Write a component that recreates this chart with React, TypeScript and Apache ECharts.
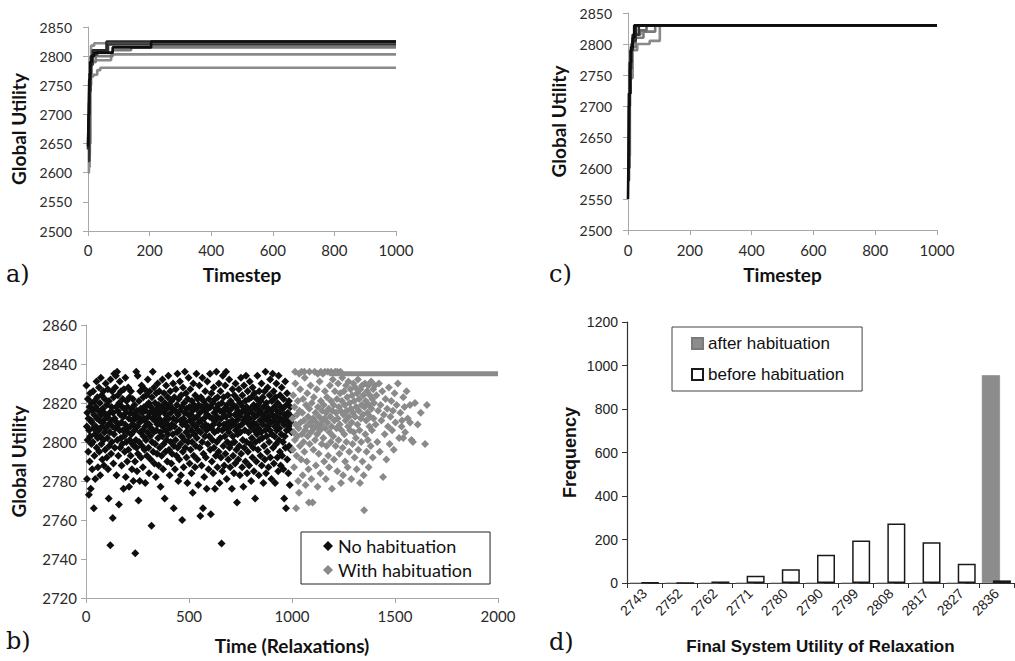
import React, { useEffect, useRef } from "react";
import * as echarts from "echarts";

// ---------- Panel a: runs without habituation (timestep, global utility) ----------
const runA1 = [[0, 2645], [2, 2700], [4, 2760], [7, 2790], [12, 2800], [20, 2806], [80, 2815], [205, 2825], [1000, 2825]];
const runA2 = [[0, 2600], [3, 2720], [6, 2790], [10, 2818], [20, 2822], [1000, 2822]];
const runA3 = [[0, 2620], [4, 2740], [8, 2785], [15, 2803], [30, 2808], [65, 2820], [1000, 2820]];
const runA4 = [[0, 2610], [5, 2750], [10, 2790], [25, 2800], [80, 2810], [140, 2815], [1000, 2815]];
const runA5 = [[0, 2630], [6, 2765], [12, 2790], [25, 2793], [75, 2803], [1000, 2803]];
const runA6 = [[0, 2650], [8, 2765], [18, 2768], [30, 2776], [40, 2780], [1000, 2780]];
const runA7 = [[0, 2640], [2, 2700], [5, 2770], [9, 2800], [15, 2810], [60, 2825], [1000, 2825]];

// ---------- Panel c: runs with habituation ----------
const runC1 = [[0, 2550], [2, 2640], [4, 2720], [7, 2770], [10, 2795], [15, 2810], [20, 2830], [1000, 2830]];
const runC2 = [[0, 2580], [3, 2700], [6, 2760], [10, 2790], [14, 2805], [25, 2815], [35, 2830], [1000, 2830]];
const runC3 = [[0, 2600], [5, 2745], [15, 2790], [30, 2800], [70, 2805], [103, 2830], [1000, 2830]];
const runC4 = [[0, 2620], [6, 2760], [12, 2795], [25, 2810], [50, 2820], [88, 2830], [1000, 2830]];
const runC5 = [[0, 2640], [4, 2770], [10, 2800], [18, 2815], [40, 2822], [60, 2830], [1000, 2830]];
const runC6 = [[0, 2600], [3, 2720], [8, 2790], [15, 2815], [25, 2830], [1000, 2830]];

// ---------- Panel b: scatter of relaxations ----------
const noHabituation = [
  [2,2829],[4,2808],[5,2781],[6,2815],[8,2801],[9,2822],[11,2795],[12,2812],[14,2773],[15,2806],[17,2818],[18,2790],[20,2825],[21,2803],[23,2776],[24,2811],[26,2799],[27,2820],[29,2810],[30,2786],[32,2816],[33,2800],[35,2826],[36,2807],[38,2766],[39,2814],[41,2793],[42,2821],[44,2804],[45,2781],[47,2818],[48,2808],
  [51,2831],[52,2797],[54,2812],[55,2823],[57,2802],[58,2787],[60,2816],[61,2806],[63,2828],[64,2795],[66,2811],[67,2820],[69,2783],[70,2803],[72,2833],[73,2814],[75,2799],[76,2824],[78,2808],[79,2791],[81,2817],[82,2810],[84,2826],[85,2801],[87,2788],[88,2815],[90,2805],[91,2822],[93,2796],[94,2812],[96,2830],[97,2807],
  [100,2819],[101,2792],[103,2813],[104,2802],[106,2827],[107,2786],[109,2809],[110,2771],[112,2821],[113,2798],[115,2815],[116,2805],[118,2747],[119,2832],[121,2811],[122,2794],[124,2818],[125,2800],[127,2826],[128,2808],[130,2761],[131,2815],[133,2789],[134,2823],[136,2804],[137,2835],[139,2812],[140,2797],[142,2828],[143,2807],[145,2834],[146,2818],[148,2783],[149,2810],
  [151,2836],[152,2801],[154,2816],[155,2824],[157,2793],[158,2809],[160,2768],[161,2820],[163,2806],[164,2831],[166,2797],[167,2814],[169,2802],[170,2826],[172,2810],[173,2788],[175,2818],[176,2799],[178,2822],[179,2806],[181,2813],[182,2776],[184,2827],[185,2803],[187,2817],[188,2795],[190,2809],[191,2833],[193,2782],[194,2815],[196,2800],[197,2821],[199,2807],
  [200,2790],[202,2818],[203,2805],[205,2828],[206,2796],[208,2812],[209,2777],[211,2823],[212,2801],[214,2815],[215,2808],[217,2793],[218,2826],[220,2804],[221,2817],[223,2786],[224,2811],[226,2799],[227,2822],[229,2809],[230,2780],[232,2814],[233,2798],[235,2819],[236,2806],[238,2790],[239,2743],[241,2812],[242,2801],[244,2836],[245,2797],[247,2816],[248,2785],[250,2808],
  [251,2834],[252,2794],[254,2813],[255,2770],[257,2821],[258,2800],[260,2810],[261,2780],[263,2826],[264,2805],[266,2817],[267,2792],[269,2811],[270,2829],[272,2798],[273,2815],[275,2806],[276,2787],[278,2823],[279,2803],[281,2812],[282,2818],[284,2796],[285,2827],[287,2808],[288,2779],[290,2816],[291,2801],[293,2824],[294,2810],[296,2793],[297,2819],[299,2805],
  [300,2832],[302,2813],[303,2797],[305,2820],[306,2784],[308,2809],[309,2826],[311,2803],[312,2815],[314,2791],[315,2818],[317,2807],[318,2757],[320,2823],[321,2800],[323,2812],[324,2836],[326,2795],[327,2816],[329,2805],[330,2828],[332,2789],[333,2811],[335,2820],[336,2799],[338,2814],[339,2782],[341,2825],[342,2806],[344,2817],[345,2794],[347,2809],[348,2830],
  [350,2802],[352,2819],[353,2788],[355,2812],[356,2826],[358,2797],[359,2815],[361,2805],[362,2777],[364,2822],[365,2810],[367,2793],[368,2818],[370,2803],[371,2832],[373,2808],[374,2786],[376,2816],[377,2799],[379,2825],[380,2811],[382,2771],[383,2820],[385,2806],[386,2795],[388,2814],[389,2829],[391,2801],[392,2817],[394,2790],[395,2809],[397,2823],[398,2804],
  [400,2834],[402,2812],[403,2796],[405,2819],[406,2783],[408,2807],[409,2826],[411,2800],[412,2815],[414,2789],[415,2821],[417,2809],[418,2794],[420,2817],[421,2804],[423,2830],[424,2812],[426,2766],[427,2798],[429,2823],[430,2808],[432,2786],[433,2816],[435,2801],[436,2827],[438,2811],[439,2793],[441,2819],[442,2805],[444,2835],[445,2797],[447,2814],[448,2780],
  [450,2822],[452,2806],[453,2791],[455,2816],[456,2831],[458,2799],[459,2811],[461,2783],[462,2824],[464,2803],[465,2818],[467,2760],[468,2809],[470,2795],[471,2828],[473,2812],[474,2787],[476,2820],[477,2801],[479,2815],[480,2836],[482,2797],[483,2810],[485,2825],[486,2805],[488,2792],[489,2817],[491,2808],[492,2779],[494,2822],[495,2800],[497,2814],[498,2833],
  [500,2803],[502,2818],[503,2789],[505,2811],[506,2827],[508,2796],[509,2814],[511,2806],[512,2784],[514,2821],[515,2800],[517,2816],[518,2774],[520,2809],[521,2830],[523,2793],[524,2819],[526,2804],[527,2812],[529,2787],[530,2824],[532,2808],[533,2798],[535,2817],[536,2835],[538,2802],[539,2813],[541,2791],[542,2822],[544,2806],[545,2778],[547,2819],[548,2810],
  [550,2829],[552,2797],[553,2815],[555,2762],[556,2805],[558,2823],[559,2811],[561,2788],[562,2818],[564,2800],[565,2833],[567,2808],[568,2766],[570,2794],[571,2821],[573,2812],[574,2782],[576,2816],[577,2803],[579,2826],[580,2809],[582,2792],[583,2819],[585,2806],[586,2776],[588,2814],[589,2831],[591,2799],[592,2817],[594,2808],[595,2786],[597,2822],[598,2803],
  [600,2813],[602,2835],[603,2796],[605,2818],[606,2763],[608,2807],[609,2825],[611,2790],[612,2812],[614,2801],[615,2820],[617,2784],[618,2809],[620,2828],[621,2797],[623,2815],[624,2805],[626,2776],[627,2822],[629,2811],[630,2793],[632,2817],[633,2836],[635,2800],[636,2813],[638,2787],[639,2823],[641,2806],[642,2819],[644,2795],[645,2830],[647,2809],[648,2779],
  [650,2816],[652,2802],[653,2826],[655,2792],[656,2812],[658,2748],[659,2820],[661,2806],[662,2785],[664,2834],[665,2815],[667,2798],[668,2823],[670,2809],[671,2788],[673,2817],[674,2803],[676,2829],[677,2794],[679,2813],[680,2836],[682,2807],[683,2781],[685,2819],[686,2800],[688,2824],[689,2810],[691,2791],[692,2816],[694,2805],[695,2832],[697,2797],[698,2814],
  [700,2787],[702,2821],[703,2808],[705,2799],[706,2817],[708,2776],[709,2811],[711,2827],[712,2803],[714,2793],[715,2819],[717,2809],[718,2784],[720,2824],[721,2800],[723,2814],[724,2789],[726,2830],[727,2806],[729,2818],[730,2796],[732,2811],[733,2769],[735,2822],[736,2804],[738,2816],[739,2791],[741,2808],[742,2827],[744,2798],[745,2813],[747,2783],[748,2820],
  [750,2805],[752,2833],[753,2794],[755,2815],[756,2809],[758,2787],[759,2824],[761,2801],[762,2818],[764,2777],[765,2811],[767,2829],[768,2797],[770,2816],[771,2806],[773,2821],[774,2790],[776,2813],[777,2834],[779,2800],[780,2818],[782,2784],[783,2810],[785,2826],[786,2795],[788,2815],[789,2805],[791,2822],[792,2788],[794,2812],[795,2831],[797,2799],[798,2817],
  [800,2808],[802,2780],[803,2823],[805,2802],[806,2815],[808,2792],[809,2828],[811,2810],[812,2797],[814,2819],[815,2785],[817,2806],[818,2825],[820,2813],[821,2771],[823,2800],[824,2817],[826,2809],[827,2790],[829,2822],[830,2804],[832,2834],[833,2814],[835,2796],[836,2819],[838,2807],[839,2783],[841,2826],[842,2801],[844,2816],[845,2811],[847,2793],[848,2821],
  [850,2805],[852,2830],[853,2788],[855,2814],[856,2802],[858,2823],[859,2809],[861,2779],[862,2818],[864,2798],[865,2812],[867,2826],[868,2791],[870,2806],[871,2836],[873,2815],[874,2784],[876,2820],[877,2803],[879,2811],[880,2795],[882,2828],[883,2808],[885,2817],[886,2787],[888,2813],[889,2800],[891,2824],[892,2806],[894,2832],[895,2792],[897,2816],[898,2810],
  [900,2781],[902,2821],[903,2804],[905,2814],[906,2835],[908,2797],[909,2811],[911,2826],[912,2789],[914,2818],[915,2803],[917,2808],[918,2779],[920,2823],[921,2813],[923,2799],[924,2830],[926,2806],[927,2816],[929,2792],[930,2820],[932,2810],[933,2785],[935,2834],[936,2801],[938,2815],[939,2807],[941,2795],[942,2824],[944,2812],[945,2788],[947,2818],[948,2804],
  [950,2828],[952,2793],[953,2811],[955,2817],[956,2800],[958,2786],[959,2822],[961,2809],[962,2771],[964,2814],[965,2803],[967,2831],[968,2797],[970,2812],[971,2766],[973,2819],[974,2806],[976,2825],[977,2791],[979,2810],[980,2815],[982,2784],[983,2808],[985,2821],[986,2798],[988,2812],[989,2778],[991,2806],[992,2818],[994,2796],[995,2810],[997,2813],[998,2805]
];

const withHabituation = [
  [1002,2812],[1004,2796],[1006,2824],[1008,2805],[1010,2787],[1012,2818],[1014,2801],[1016,2830],[1018,2809],[1020,2766],[1022,2793],[1024,2814],[1026,2803],[1028,2821],[1030,2780],[1032,2807],[1034,2774],[1036,2816],[1038,2798],[1040,2827],[1042,2810],[1044,2791],[1046,2836],[1048,2804],
  [1050,2815],[1052,2783],[1054,2822],[1056,2800],[1058,2811],[1060,2795],[1062,2833],[1064,2806],[1066,2778],[1068,2819],[1070,2808],[1072,2790],[1074,2825],[1076,2803],[1078,2813],[1080,2786],[1082,2769],[1084,2817],[1086,2799],[1088,2810],[1090,2829],[1092,2805],[1094,2781],[1096,2820],[1098,2808],
  [1100,2769],[1102,2812],[1104,2796],[1106,2823],[1108,2807],[1110,2836],[1112,2801],[1114,2815],[1116,2788],[1118,2810],[1120,2827],[1122,2804],[1124,2777],[1126,2818],[1128,2808],[1130,2794],[1132,2813],[1134,2831],[1136,2806],[1138,2784],[1140,2821],[1142,2809],[1144,2799],[1146,2816],[1148,2811],
  [1150,2835],[1152,2802],[1154,2819],[1156,2790],[1158,2812],[1160,2826],[1162,2807],[1164,2781],[1166,2815],[1168,2798],[1170,2823],[1172,2810],[1174,2836],[1176,2793],[1178,2817],[1180,2787],[1182,2805],[1184,2829],[1186,2813],[1188,2800],[1190,2821],[1192,2808],[1194,2776],[1196,2816],[1198,2832],
  [1200,2803],[1202,2819],[1204,2791],[1206,2811],[1208,2826],[1210,2836],[1212,2798],[1214,2815],[1216,2807],[1218,2822],[1220,2785],[1222,2812],[1224,2830],[1226,2801],[1228,2818],[1230,2794],[1232,2809],[1234,2825],[1236,2816],[1238,2779],[1240,2806],[1242,2821],[1244,2833],[1246,2797],[1248,2783],
  [1250,2814],[1252,2826],[1254,2804],[1256,2819],[1258,2790],[1260,2811],[1262,2829],[1264,2800],[1266,2816],[1268,2823],[1270,2787],[1272,2808],[1274,2831],[1276,2813],[1278,2795],[1280,2820],[1282,2806],[1284,2827],[1286,2817],[1288,2781],[1290,2810],[1292,2824],[1294,2799],[1296,2815],[1298,2830],
  [1300,2805],[1302,2821],[1304,2792],[1306,2813],[1308,2828],[1310,2802],[1312,2818],[1314,2786],[1316,2825],[1318,2809],[1320,2832],[1322,2796],[1324,2816],[1326,2822],[1328,2806],[1330,2779],[1332,2827],[1334,2812],[1336,2800],[1338,2819],[1340,2829],[1342,2790],[1344,2814],[1346,2824],[1348,2783],[1350,2765],
  [1352,2818],[1354,2830],[1356,2804],[1358,2821],[1360,2811],[1362,2795],[1364,2826],[1366,2815],[1368,2801],[1370,2829],[1372,2787],[1374,2819],[1376,2808],[1378,2824],[1380,2813],[1382,2798],[1384,2831],[1386,2817],[1388,2806],[1390,2822],[1392,2792],[1394,2827],[1396,2812],[1398,2820],
  [1402,2829],[1406,2809],[1410,2824],[1414,2800],[1418,2816],[1422,2830],[1426,2795],[1430,2819],[1434,2811],[1438,2826],[1442,2782],[1446,2814],[1450,2804],[1454,2822],[1458,2791],[1462,2817],[1466,2808],[1470,2828],[1474,2799],[1478,2813],[1482,2821],[1486,2806],[1490,2816],[1494,2796],[1498,2825],
  [1502,2810],[1508,2819],[1514,2830],[1520,2802],[1526,2815],[1532,2808],[1534,2811],[1540,2823],[1540,2802],[1546,2818],[1549,2805],[1556,2826],[1562,2812],[1573,2819],[1573,2810],[1580,2801],[1587,2800],[1597,2820],[1610,2809],[1625,2815],[1646,2799],[1655,2819],
  [1015,2836],[1035,2835],[1060,2836],[1085,2836],[1125,2835],[1140,2836],[1160,2836],[1190,2836],[1220,2836],[1235,2836]
];

// settled runs with habituation sit on the optimum
const habituatedPlateau = [[1180, 2835], [2000, 2835]];

// ---------- Panel d: histogram ----------
const utilityBins = ["2743", "2752", "2762", "2771", "2780", "2790", "2799", "2808", "2817", "2827", "2836"];
const afterHabituation = [0, 0, 0, 0, 0, 0, 0, 0, 0, 0, 955];
const beforeHabituation = [2, 1, 7, 33, 63, 130, 195, 273, 187, 88, 12];

const BLACK = "#0e0e0e";
const GRAY = "#8a8a8a";
const AXIS_GRAY = "#a8a8a8";
const SANS = "Lato, 'Open Sans', sans-serif";
const ARIAL = "'Liberation Sans', Arial, sans-serif";
const plain = (v: number) => String(v);

function stepSeries(data: number[][], color: string, idx: number, z: number) {
  return {
    type: "line",
    xAxisIndex: idx,
    yAxisIndex: idx,
    data,
    step: "end",
    symbol: "none",
    showSymbol: false,
    lineStyle: { color, width: 2.6 },
    z,
    silent: true,
  };
}

function excelValueAxis(gridIndex: number, min: number, max: number, interval: number, name: string, labelSize: number, labelMargin: number, nameGap: number) {
  return {
    gridIndex,
    type: "value",
    min,
    max,
    interval,
    axisLine: { show: true, onZero: false, lineStyle: { color: AXIS_GRAY, width: 1 } },
    axisTick: { show: true, length: 5, lineStyle: { color: AXIS_GRAY } },
    splitLine: { show: false },
    axisLabel: { color: "#2a2a2a", fontFamily: SANS, fontSize: labelSize, margin: labelMargin, formatter: plain },
    name,
    nameLocation: "middle",
    nameGap,
    nameTextStyle: { color: "#111", fontFamily: SANS, fontWeight: "bold", fontSize: 19 },
  };
}

export default function App() {
  const ref = useRef<HTMLDivElement>(null);

  useEffect(() => {
    document.body.style.margin = "0";
    if (!ref.current) return;
    const chart = echarts.init(ref.current, null, { renderer: "svg" });

    const option: any = {
      animation: false,
      backgroundColor: "#ffffff",
      grid: [
        { left: 88, top: 27, width: 308, height: 204 },
        { left: 86, top: 325, width: 412, height: 273 },
        { left: 628, top: 13, width: 309, height: 217 },
        { left: 627, top: 322, width: 387, height: 261 },
      ],
      xAxis: [
        excelValueAxis(0, 0, 1000, 200, "Timestep", 15, 11, 34),
        excelValueAxis(1, 0, 2000, 500, "Time (Relaxations)", 15, 10, 38),
        excelValueAxis(2, 0, 1000, 200, "Timestep", 15, 12, 35),
        {
          gridIndex: 3,
          type: "category",
          data: utilityBins,
          boundaryGap: true,
          axisLine: { show: true, lineStyle: { color: "#333", width: 1.2 } },
          axisTick: { show: true, length: 5, lineStyle: { color: "#333" } },
          axisLabel: { rotate: 45, color: "#222", fontFamily: ARIAL, fontSize: 14, margin: 8 },
          name: "Final System Utility of Relaxation",
          nameLocation: "middle",
          nameGap: 55,
          nameTextStyle: { color: "#111", fontFamily: ARIAL, fontWeight: "bold", fontSize: 17 },
        },
      ],
      yAxis: [
        excelValueAxis(0, 2500, 2850, 50, "Global Utility", 14, 16, 60),
        excelValueAxis(1, 2720, 2860, 20, "Global Utility", 15, 9, 58),
        excelValueAxis(2, 2500, 2850, 50, "Global Utility", 14, 16, 60),
        {
          gridIndex: 3,
          type: "value",
          min: 0,
          max: 1200,
          interval: 200,
          axisLine: { show: true, lineStyle: { color: "#333", width: 1.2 } },
          axisTick: { show: true, length: 5, lineStyle: { color: "#333" } },
          splitLine: { show: false },
          axisLabel: { color: "#222", fontFamily: ARIAL, fontSize: 14, margin: 9, formatter: plain },
          name: "Frequency",
          nameLocation: "middle",
          nameGap: 48,
          nameTextStyle: { color: "#111", fontFamily: ARIAL, fontWeight: "bold", fontSize: 18 },
        },
      ],
      legend: [
        {
          orient: "vertical",
          left: 301,
          top: 532,
          data: ["No habituation", "With habituation"],
          itemWidth: 10,
          itemHeight: 10,
          itemGap: 6,
          padding: [5, 18, 5, 22],
          borderColor: "#222",
          borderWidth: 1,
          selectedMode: false,
          textStyle: { fontFamily: SANS, fontSize: 18, color: "#111" },
        },
        {
          orient: "vertical",
          left: 672,
          top: 327,
          data: ["after habituation", "before habituation"],
          icon: "rect",
          itemWidth: 11,
          itemHeight: 11,
          itemGap: 14,
          padding: [8, 18, 8, 19],
          borderColor: "#444",
          borderWidth: 1,
          selectedMode: false,
          textStyle: { fontFamily: ARIAL, fontSize: 17, color: "#111" },
        },
      ],
      graphic: [
        { type: "text", left: 6, top: 262, style: { text: "a)", font: "24px 'DejaVu Serif', serif", fill: "#111" } },
        { type: "text", left: 6, top: 629, style: { text: "b)", font: "24px 'DejaVu Serif', serif", fill: "#111" } },
        { type: "text", left: 549, top: 262, style: { text: "c)", font: "24px 'DejaVu Serif', serif", fill: "#111" } },
        { type: "text", left: 549, top: 630, style: { text: "d)", font: "24px 'DejaVu Serif', serif", fill: "#111" } },
      ],
      series: [
        // panel a
        stepSeries(runA6, GRAY, 0, 2),
        stepSeries(runA5, GRAY, 0, 2),
        stepSeries(runA4, "#7a7a7a", 0, 2),
        stepSeries(runA2, "#8c8c8c", 0, 2),
        stepSeries(runA3, "#333333", 0, 3),
        stepSeries(runA7, "#2a2a2a", 0, 3),
        stepSeries(runA1, BLACK, 0, 4),
        // panel c
        stepSeries(runC3, GRAY, 2, 2),
        stepSeries(runC4, "#7a7a7a", 2, 2),
        stepSeries(runC5, "#6a6a6a", 2, 2),
        stepSeries(runC2, "#333333", 2, 3),
        stepSeries(runC6, "#262626", 2, 3),
        stepSeries(runC1, BLACK, 2, 4),
        // panel b
        {
          name: "No habituation",
          type: "scatter",
          xAxisIndex: 1,
          yAxisIndex: 1,
          data: noHabituation,
          symbol: "diamond",
          symbolSize: 8,
          itemStyle: { color: BLACK, opacity: 1 },
          silent: true,
        },
        {
          name: "With habituation",
          type: "scatter",
          xAxisIndex: 1,
          yAxisIndex: 1,
          data: withHabituation,
          symbol: "diamond",
          symbolSize: 8,
          itemStyle: { color: GRAY, opacity: 1 },
          silent: true,
        },
        {
          name: "plateau",
          type: "line",
          xAxisIndex: 1,
          yAxisIndex: 1,
          data: habituatedPlateau,
          symbol: "none",
          lineStyle: { color: GRAY, width: 5 },
          silent: true,
        },
        // panel d
        {
          name: "after habituation",
          type: "bar",
          xAxisIndex: 3,
          yAxisIndex: 3,
          data: afterHabituation,
          barWidth: 18,
          barGap: "-39%",
          itemStyle: { color: "#8c8c8c", borderColor: "#7a7a7a", borderWidth: 0.5 },
          silent: true,
        },
        {
          name: "before habituation",
          type: "bar",
          xAxisIndex: 3,
          yAxisIndex: 3,
          data: beforeHabituation,
          barWidth: 18,
          barGap: "-39%",
          itemStyle: { color: "#ffffff", borderColor: "#1a1a1a", borderWidth: 1.5 },
          silent: true,
        },
      ],
    };

    chart.setOption(option);
    return () => chart.dispose();
  }, []);

  return <div ref={ref} style={{ width: 1015, height: 661 }} />;
}
